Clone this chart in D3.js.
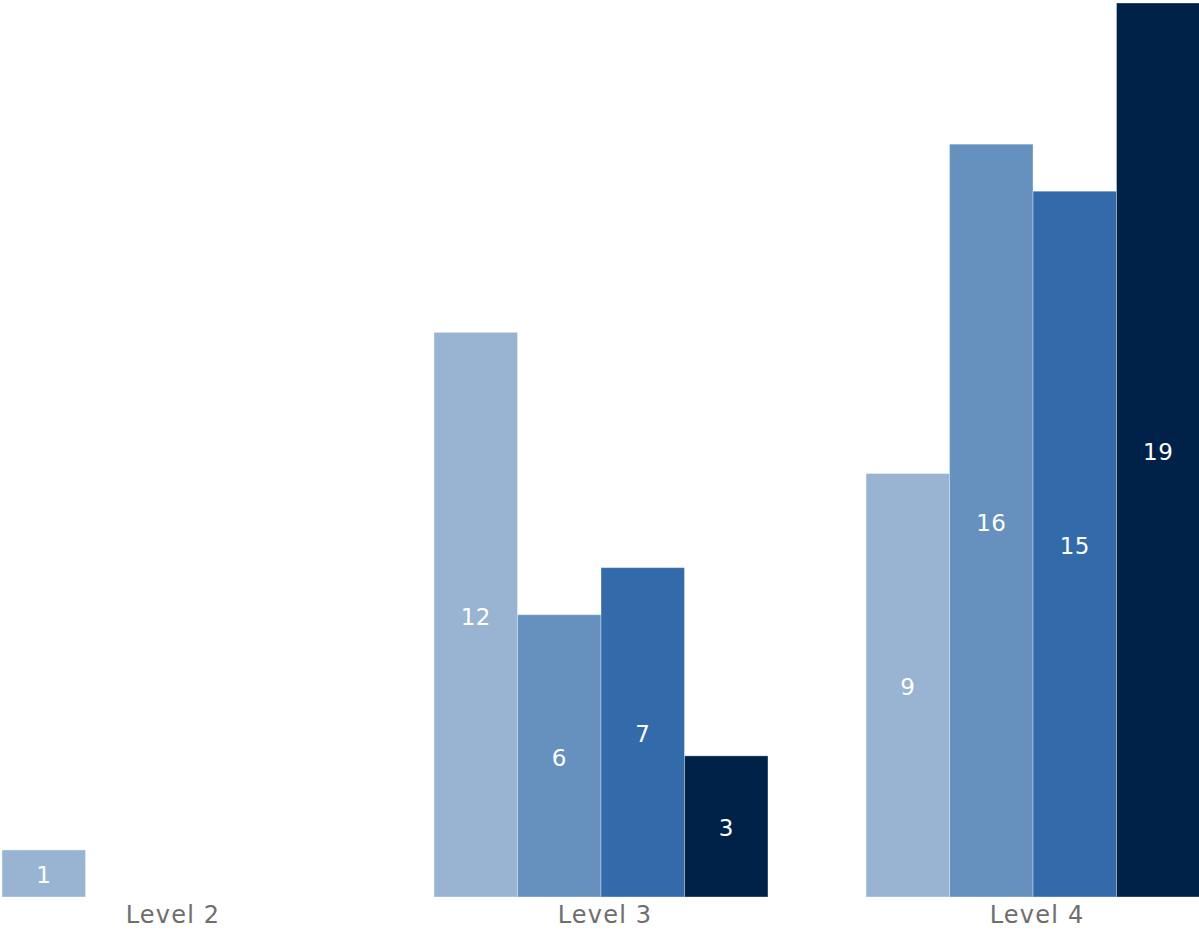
<!DOCTYPE html>
<html>
<head>
<meta charset="utf-8">
<script src="https://cdn.jsdelivr.net/npm/d3@7"></script>
<style>
  html, body { margin: 0; padding: 0; background: #fff; }
  svg { display: block; }
</style>
</head>
<body>
<svg id="chart" width="1199" height="931"></svg>
<script>
const categories = ["Level 2", "Level 3", "Level 4"];
const seriesNames = ["S1", "S2", "S3", "S4"];
const series1 = [1, 12, 9];
const series2 = [null, 6, 16];
const series3 = [null, 7, 15];
const series4 = [null, 3, 19];
const colors = ["#99b4d3", "#6690be", "#336aaa", "#002248"];

(function () {
const allSeries = [series1, series2, series3, series4];
const data = [];
categories.forEach((c, ci) => {
  allSeries.forEach((s, si) => {
    if (s[ci] != null) data.push({cat: c, key: seriesNames[si], si, value: s[ci]});
  });
});

const svg = d3.select("#chart");
const mLeft = 2, mRight = 1200, mTop = 3, mBottom = 897;

const x0 = d3.scaleBand().domain(categories).range([mLeft, mRight]).paddingInner(0.227).paddingOuter(0);
const x1 = d3.scaleBand().domain(seriesNames).range([0, x0.bandwidth()]).padding(0);
const y = d3.scaleLinear().domain([0, 19]).range([mBottom, mTop]);
const color = d3.scaleOrdinal().domain(seriesNames).range(colors);

const g = svg.append("g");
g.selectAll("rect.bar").data(data).join("rect")
  .attr("class", "bar")
  .attr("x", d => x0(d.cat) + x1(d.key))
  .attr("y", d => y(d.value))
  .attr("width", x1.bandwidth())
  .attr("height", d => y(0) - y(d.value))
  .attr("fill", d => color(d.key))
  .attr("stroke", "#ffffff")
  .attr("stroke-opacity", 0.35)
  .attr("stroke-width", 1);

g.selectAll("text.val").data(data).join("text")
  .attr("class", "val")
  .attr("x", d => x0(d.cat) + x1(d.key) + x1.bandwidth() / 2)
  .attr("y", d => (y(d.value) + y(0)) / 2 + 2)
  .attr("text-anchor", "middle")
  .attr("dominant-baseline", "central")
  .attr("fill", "#ffffff")
  .style("font-family", "'DejaVu Sans', Verdana, sans-serif")
  .style("font-size", "23px")
  .style("letter-spacing", "0.5px")
  .text(d => d.value);

const axis = d3.axisBottom(x0).tickSize(0).tickPadding(8);
const ax = svg.append("g").attr("transform", `translate(0,${mBottom})`).call(axis);
ax.select(".domain").remove();
ax.selectAll("text")
  .attr("y", 26)
  .attr("dy", null)
  .attr("dx", 4)
  .attr("fill", "#6e6e6e")
  .style("font-family", "'DejaVu Sans', Verdana, sans-serif")
  .style("font-size", "24px")
  .style("letter-spacing", "1.2px");
})();
</script>
</body>
</html>
